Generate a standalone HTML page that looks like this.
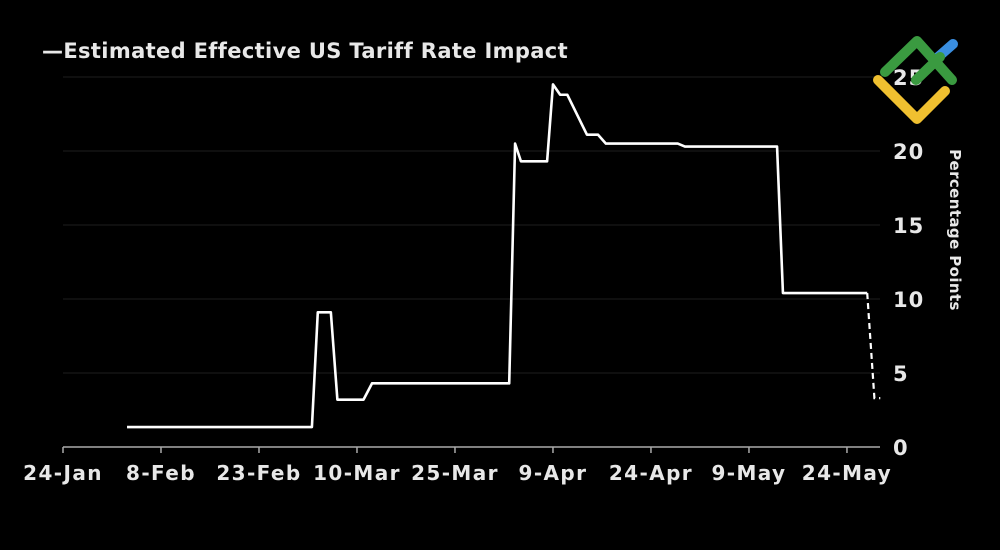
<!DOCTYPE html>
<html><head><meta charset="utf-8"><style>
html,body{margin:0;background:#000;}
svg text{font-family:"DejaVu Sans","Liberation Sans",sans-serif;font-weight:bold;fill:#e8e8e8;}
</style></head><body>
<svg width="1000" height="545" viewBox="0 0 1000 545">
<text x="42" y="58" font-size="21" letter-spacing="0.35" fill="#fff">—Estimated Effective US Tariff Rate Impact</text>
<g id="grid"></g><g id="xt"></g><g id="yt"></g>
<path id="line" fill="none" stroke="#fff" stroke-width="2.6" stroke-linejoin="round"/>
<path id="dash" fill="none" stroke="#fff" stroke-width="2.2" stroke-dasharray="6,4"/>
<text transform="translate(950,230) rotate(90)" text-anchor="middle" font-size="15" letter-spacing="0.4" fill="#fff">Percentage Points</text>
<g stroke-linecap="round" stroke-linejoin="round" fill="none">
<path d="M878,80 L917,119 L945,91" stroke="#f0c030" stroke-width="10"/>
<path d="M937,58 L953,44" stroke="#3a8ee0" stroke-width="10"/>
<path d="M885,72 L917,41 L952,80" stroke="#3a9a40" stroke-width="10"/>
<path d="M916,80 L940,57" stroke="#3a9a40" stroke-width="10"/>
</g>
</svg>
<script>
const days=[9.8,38.1,39,41,42,46,47.3,68.3,69.2,70.1,74.1,75,76.1,77.2,80.2,81.9,83.1,94.1,95.2,109.3,110.2,123.1];
const vals=[1.35,1.35,9.1,9.1,3.2,3.2,4.3,4.3,20.5,19.3,19.3,24.5,23.8,23.8,21.1,21.1,20.5,20.5,20.3,20.3,10.4,10.4];
const projDays=[123.1,124.2,125.1];
const projVals=[10.4,3.3,3.3];
const xLabels=["24-Jan","8-Feb","23-Feb","10-Mar","25-Mar","9-Apr","24-Apr","9-May","24-May"];
const xLabelDays=[0,15,30,45,60,75,90,105,120];
const yTicks=[0,5,10,15,20,25];
const X=d=>63+d*6.533, Y=v=>447-v*14.8;
const NS="http://www.w3.org/2000/svg";
function mk(t,a,p){const e=document.createElementNS(NS,t);for(const k in a)e.setAttribute(k,a[k]);p.appendChild(e);return e;}
const grid=document.getElementById('grid'),xt=document.getElementById('xt'),yt=document.getElementById('yt');
yTicks.forEach(v=>{
 if(v>0){const g=mk('line',{x1:63,x2:880,y1:Y(v),y2:Y(v),stroke:'#141414','stroke-width':1.5},grid);
 
 }
 const t=mk('text',{x:893,y:Y(v)+8,'font-size':21,'letter-spacing':1},yt);t.textContent=v;
 
 
});
const ax=mk('line',{x1:63,x2:880,y1:447,y2:447,stroke:'#aaa','stroke-width':1.5},grid);


xLabels.forEach((l,i)=>{
 const x=X(xLabelDays[i]);
 mk('line',{x1:x,x2:x,y1:447,y2:453,stroke:'#aaa','stroke-width':1.5},xt);
 const t=mk('text',{x:x,y:480,'font-size':20,'letter-spacing':1.4,'text-anchor':'middle'},xt);t.textContent=l;
 
 
});
document.getElementById('line').setAttribute('d',days.map((d,i)=>(i?'L':'M')+X(d)+','+Y(vals[i])).join(''));
document.getElementById('dash').setAttribute('d',projDays.map((d,i)=>(i?'L':'M')+X(d)+','+Y(projVals[i])).join(''));
</script>
</body></html>
